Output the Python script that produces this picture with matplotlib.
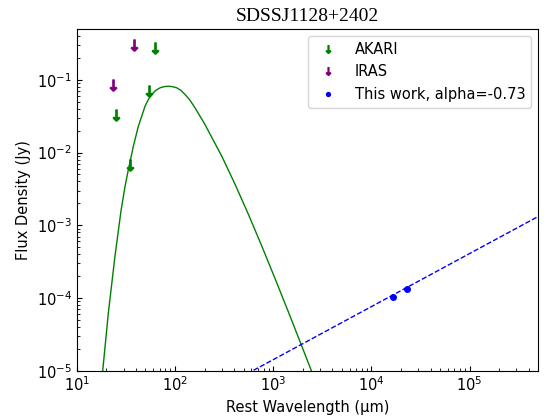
import matplotlib
matplotlib.use("Agg")
import matplotlib.pyplot as plt

# upper limits (rest frame, um / Jy)
akari_wave = [25.3, 35.0, 54.5, 62.2]
akari_flux = [0.0333, 0.0068, 0.0697, 0.276]
iras_wave = [23.2, 38.7]
iras_flux = [0.086, 0.306]

# radio points from this work
radio_wave = [16500, 23300]
radio_flux = [1.04e-4, 1.32e-4]

# power-law fit, alpha=-0.73
fit_wave = [400, 6e5]
fit_flux = [7.26e-6, 1.51e-3]

# dust model curve
bb_wave = [18.40, 20.98, 24.55, 28.26, 31.04, 33.54, 37.71, 42.40, 49.61,
           53.7, 58.02, 64.2, 70.53, 77.4, 85.68, 94.5, 104.3, 115.4, 126.7,
           141.3, 160.3, 202.5, 299.7, 409.3, 559.2, 765.5, 1045, 1428,
           1923, 2472]
bb_flux = [1e-5, 6.18e-5, 3.80e-4, 1.585e-3, 3.42e-3, 5.81e-3, 0.01216,
           0.02296, 0.04325, 0.0538, 0.0628, 0.0721, 0.0776, 0.0805, 0.0817,
           0.0805, 0.0776, 0.0713, 0.0628, 0.0531, 0.0411, 0.0242, 8.91e-3,
           3.66e-3, 1.416e-3, 5.18e-4, 1.849e-4, 6.44e-5, 2.31e-5, 9.66e-6]

fig = plt.figure(figsize=(5.44, 4.19), dpi=100)
ax = fig.add_axes([0.141, 0.1153, 0.8485, 0.8155])

ax.plot(bb_wave, bb_flux, color='green', lw=1.0)
ax.plot(fit_wave, fit_flux, color='blue', ls='--', lw=1.0)
ax.plot(akari_wave, akari_flux, ls='none', marker=r'$\downarrow$', ms=8,
        color='green', label='AKARI')
ax.plot(iras_wave, iras_flux, ls='none', marker=r'$\downarrow$', ms=8,
        color='purple', label='IRAS')
ax.plot(radio_wave, radio_flux, ls='none', marker='o', ms=4,
        color='blue', label='This work, alpha=-0.73')

ax.set_xscale('log')
ax.set_yscale('log')
ax.set_xlim(10, 5e5)
ax.set_ylim(1e-5, 0.5)
ax.tick_params(which='both', direction='in', labelsize=10.5)
ax.set_xlabel('Rest Wavelength (\u03bcm)', fontsize=10.5)
ax.set_ylabel('Flux Density (Jy)', fontsize=10.5)
ax.set_title('SDSSJ1128+2402', fontsize=14, family='Liberation Serif')
ax.legend(loc='upper right', numpoints=1, fontsize=10.5, markerscale=0.7)

fig.savefig('out.png')
